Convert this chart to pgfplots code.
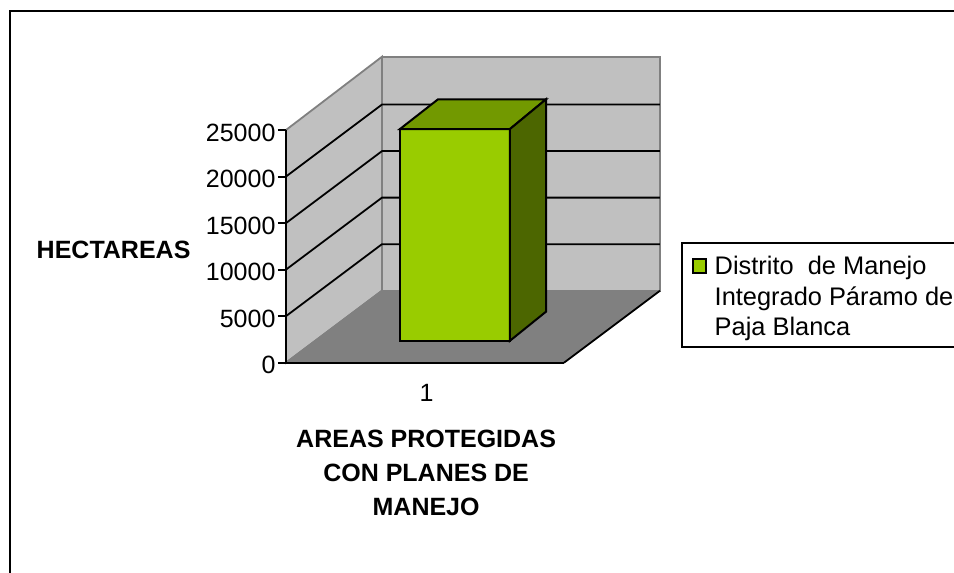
\documentclass[border=0pt]{standalone}
\usepackage{pgfplots}
\pgfplotsset{compat=1.18}
\usepackage{fontspec}
\setmainfont{Liberation Sans}
\definecolor{wall}{HTML}{C0C0C0}
\definecolor{floorc}{HTML}{808080}
\definecolor{barf}{HTML}{99CC00}
\definecolor{bart}{HTML}{729900}
\definecolor{bars}{HTML}{4C6600}
\newcommand{\fs}{\fontsize{25}{34}\selectfont}
\newcommand{\fl}{\fontsize{25.4}{30.5}\selectfont}
\begin{document}
\begin{tikzpicture}[x=1pt,y=1pt]
\path[use as bounding box] (0,0) rectangle (954,573);
\clip (0,0) rectangle (954,573);
\begin{axis}[
  at={(286pt,210.3pt)}, anchor=south west,
  scale only axis, width=278pt, height=232.7pt,
  xmin=0, xmax=2, ymin=0, ymax=25000,
  clip=false, axis on top,
  axis x line=bottom, axis y line=left,
  axis line style={-, black, line width=2pt},
  xtick={1}, xticklabels={1},
  x tick style={draw=none},
  extra x ticks={0,2}, extra x tick labels={},
  extra x tick style={tick style={draw=black, line width=2pt}, major tick length=8pt},
  ytick={0,5000,10000,15000,20000,25000},
  tick align=outside, major tick length=8pt,
  y tick style={black, line width=2pt},
  tick label style={font=\fs},
  /pgf/number format/assume math mode=true,
  /pgf/number format/1000 sep={},
  scaled y ticks=false,
  xticklabel style={yshift=-10.5pt, xshift=1.5pt},
  yticklabel style={yshift=-2.5pt, xshift=1pt},
  xlabel={\textbf{AREAS PROTEGIDAS}\\\textbf{CON PLANES DE}\\\textbf{MANEJO}},
  xlabel style={font=\fs, align=center, at={(axis description cs:0.504,0)}, anchor=north, yshift=-63.5pt},
  ylabel={\textbf{HECTAREAS}},
  ylabel style={font=\fs, rotate=-90, at={(axis description cs:-0.331,0.485)}, anchor=east},
]
% back wall
\addplot[fill=wall, draw=floorc, line width=1.8pt] coordinates {(0.6906,7735) (2.6906,7735) (2.6906,32874) (0.6906,32874)} -- cycle;
% left wall
\addplot[fill=wall, draw=floorc, line width=1.8pt] coordinates {(0,0) (0.6906,7735) (0.6906,32874) (0,25000)} -- cycle;
% floor
\addplot[fill=floorc, draw=none] coordinates {(0,0) (2,0) (2.6906,7735) (0.6906,7735)} -- cycle;
\addplot[draw=floorc, line width=1.8pt] coordinates {(0,0) (0.6906,7735)};
\addplot[draw=black, line width=1.8pt] coordinates {(2,0) (2.6906,7735)};
% gridlines
\addplot[black, line width=1.8pt] coordinates {(0,5000) (0.6906,12735) (2.6906,12735)};
\addplot[black, line width=1.8pt] coordinates {(0,10000) (0.6906,17735) (2.6906,17735)};
\addplot[black, line width=1.8pt] coordinates {(0,15000) (0.6906,22735) (2.6906,22735)};
\addplot[black, line width=1.8pt] coordinates {(0,20000) (0.6906,27735) (2.6906,27735)};
% bar
\addplot[fill=barf, draw=black, line width=2pt] coordinates {(0.8201,2363) (1.6115,2363) (1.6115,25107) (0.8201,25107)} -- cycle;
\addplot[fill=bart, draw=black, line width=2pt] coordinates {(0.8201,25107) (1.6115,25107) (1.8705,28297) (1.0935,28297)} -- cycle;
\addplot[fill=bars, draw=black, line width=2pt] coordinates {(1.6115,2363) (1.8705,5479) (1.8705,28297) (1.6115,25107)} -- cycle;
\end{axis}
% frame
\draw[black, line width=2pt] (10,0) -- (10,561.5) -- (954,561.5);
% legend
\draw[black, line width=2pt] (954,330) -- (682,330) -- (682,226) -- (954,226);
\draw[black, line width=2pt, fill=barf] (693,300) rectangle (706,314);
\node[anchor=base west, inner sep=0pt, font=\fl] at (714.5,298) {Distrito\ \ de Manejo};
\node[anchor=base west, inner sep=0pt, font=\fl] at (714.5,267.5) {Integrado Páramo de};
\node[anchor=base west, inner sep=0pt, font=\fl] at (714.5,237) {Paja Blanca};
\end{tikzpicture}
\end{document}
